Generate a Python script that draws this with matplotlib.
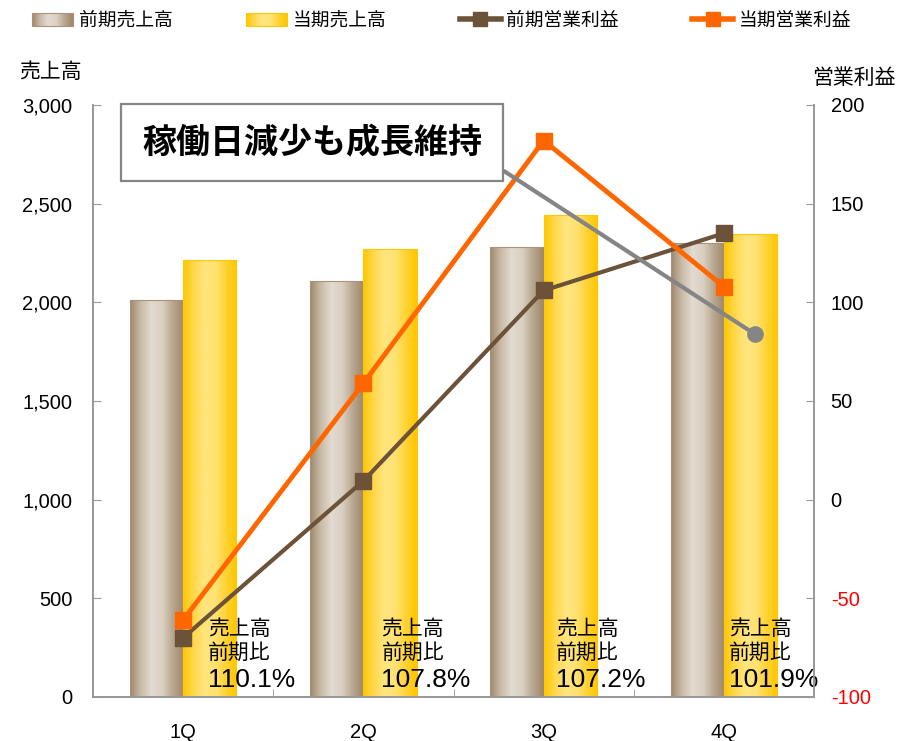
import numpy as np
import matplotlib
matplotlib.use("Agg")
import matplotlib.pyplot as plt
from matplotlib.colors import LinearSegmentedColormap
from matplotlib.patches import Patch, Rectangle
from matplotlib.lines import Line2D
from matplotlib.legend_handler import HandlerBase
from matplotlib.ticker import FuncFormatter, FixedLocator
import matplotlib.transforms as mtransforms

plt.rcParams["axes.unicode_minus"] = False

# data
quarters = ["1Q", "2Q", "3Q", "4Q"]
sales_prev = [2012, 2107, 2279, 2303]
sales_curr = [2215, 2271, 2443, 2347]
profit_prev = [-70, 9.5, 106, 135]
profit_curr = [-61, 59, 182, 108]
yoy_text = ["110.1%", "107.8%", "107.2%", "101.9%"]
callout_value = 84  # grey point near 4Q

JP = ["Noto Sans CJK JP", "DejaVu Sans"]
NUM = ["Liberation Sans", "DejaVu Sans"]

brown_cm = LinearSegmentedColormap.from_list(
    "brown", ["#9E876A", "#C9BBA8", "#E2DBD0", "#D9CFC1", "#B8A68E", "#9E876A"])
gold_cm = LinearSegmentedColormap.from_list(
    "gold", ["#FFC600", "#FFD84C", "#FFE57F", "#FFE272", "#FFD233", "#FFC600"])
orange = "#FF6600"
dbrown = "#6B5239"
grey = "#858585"
axis_grey = "#999999"


class GradHandler(HandlerBase):
    # legend swatch drawn as thin vertical strips of the gradient
    def __init__(self, cmap, edge):
        super().__init__()
        self.cmap = cmap
        self.edge = edge

    def create_artists(self, legend, orig_handle, xdescent, ydescent,
                       width, height, fontsize, trans):
        n = 40
        arts = []
        for i in range(n):
            r = Rectangle((-xdescent + width * i / n, -ydescent), width / n * 1.05, height,
                          facecolor=self.cmap(i / (n - 1)), edgecolor="none", transform=trans)
            arts.append(r)
        arts.append(Rectangle((-xdescent, -ydescent), width, height, facecolor="none",
                              edgecolor=self.edge, lw=0.8, transform=trans))
        return arts


fig = plt.figure(figsize=(8.97, 7.41), dpi=100)
ax = fig.add_axes([93 / 897, 44 / 741, 721 / 897, 592 / 741])
ax2 = ax.twinx()

x = np.arange(len(quarters))
w = 0.295
bars_prev = ax.bar(x - w / 2, sales_prev, w, color="none", edgecolor="#A8927A", lw=0.8, zorder=2.6)
bars_curr = ax.bar(x + w / 2, sales_curr, w, color="none", edgecolor="#FFC800", lw=0.8, zorder=2.6)

grad = np.linspace(0, 1, 256)
for bars, cm in [(bars_prev, brown_cm), (bars_curr, gold_cm)]:
    for r in bars:
        bx, by = r.get_x(), r.get_y()
        bw, bh = r.get_width(), r.get_height()
        im = ax.imshow(cm(grad)[np.newaxis, :, :], extent=[bx, bx + bw, by, by + bh],
                       aspect="auto", zorder=2.5, interpolation="bilinear")
        im.set_clip_path(r)

ax.set_xlim(-0.5, 3.5)
ax.set_ylim(0, 3000)
ax.set_yticks(np.arange(0, 3001, 500))
ax.yaxis.set_major_formatter(FuncFormatter(lambda v, p: f"{int(v):,}"))
ax.set_xticks(x)
ax.set_xticklabels(quarters)
ax.xaxis.set_minor_locator(FixedLocator([0.5, 1.5, 2.5]))
ax.tick_params(axis="x", which="major", length=0, pad=19, labelsize=14.5)
ax.tick_params(axis="x", which="minor", direction="in", length=6, color=axis_grey)
ax.tick_params(axis="y", direction="in", length=6, color=axis_grey, pad=15, labelsize=14.5)
for lab in ax.get_xticklabels() + ax.get_yticklabels():
    lab.set_family(NUM)

ax2.plot(x, profit_prev, color=dbrown, lw=3, marker="s", ms=12, zorder=3)
ax2.plot(x, profit_curr, color=orange, lw=3.5, marker="s", ms=12, zorder=4)
ax2.set_ylim(-100, 200)
ax2.set_yticks(np.arange(-100, 201, 50))
ax2.tick_params(axis="y", direction="in", length=6, color=axis_grey, pad=12, labelsize=14.5)
for lab, v in zip(ax2.get_yticklabels(), np.arange(-100, 201, 50)):
    lab.set_family(NUM)
    if v < 0:
        lab.set_color("#FF0000")

for a in (ax, ax2):
    a.spines["top"].set_visible(False)
    for s in ("left", "right", "bottom"):
        a.spines[s].set_color(axis_grey)
        a.spines[s].set_linewidth(1.3)

# callout box and grey pointer
ax2.annotate("稼働日減少も成長維持", xy=(3 + 0.17, callout_value), xycoords="data",
             xytext=(0.304, 0.936), textcoords="axes fraction",
             ha="center", va="center", fontsize=24.5, fontweight="bold", family=JP,
             bbox=dict(boxstyle="square,pad=0.62", fc="white", ec=grey, lw=1.6),
             arrowprops=dict(arrowstyle="-", color=grey, lw=3, shrinkA=0, shrinkB=0,
                             relpos=(1.0, 0.1)),
             zorder=6, annotation_clip=False)
ax2.plot([3 + 0.17], [callout_value], marker="o", ms=11, color=grey, zorder=6)

# yoy annotations
tr = mtransforms.blended_transform_factory(ax.transData, ax.transAxes)
offs = [0.14, 0.10, 0.07, 0.03]
for i, t in enumerate(yoy_text):
    ax.text(i + offs[i], 0.115, "売上高", transform=tr, fontsize=15, family=JP,
            va="center", ha="left", zorder=7)
    ax.text(i + offs[i], 0.074, "前期比", transform=tr, fontsize=15, family=JP,
            va="center", ha="left", zorder=7)
    ax.text(i + offs[i] - 0.002, 0.028, t, transform=tr, fontsize=19, family=NUM,
            va="center", ha="left", zorder=7)

fig.text(50 / 897, 1 - 72 / 741, "売上高", fontsize=15, family=JP, ha="center", va="center")
fig.text(854 / 897, 1 - 78 / 741, "営業利益", fontsize=15, family=JP, ha="center", va="center")

handles = [Patch(), Patch(),
           Line2D([], [], color=dbrown, lw=4, marker="s", ms=10),
           Line2D([], [], color=orange, lw=4, marker="s", ms=10)]
labels = ["前期売上高", "当期売上高", "前期営業利益", "当期営業利益"]
leg = fig.legend(handles, labels, loc="upper left", bbox_to_anchor=(32 / 897, 1 - 10 / 741),
                 ncol=4, frameon=False, prop={"family": JP, "size": 13.5},
                 handlelength=2.2, handleheight=0.75, handletextpad=0.3,
                 columnspacing=3.9, borderpad=0, borderaxespad=0,
                 handler_map={handles[0]: GradHandler(brown_cm, "#A8927A"),
                              handles[1]: GradHandler(gold_cm, "#FFC800")})

fig.savefig("out.png", dpi=100)
